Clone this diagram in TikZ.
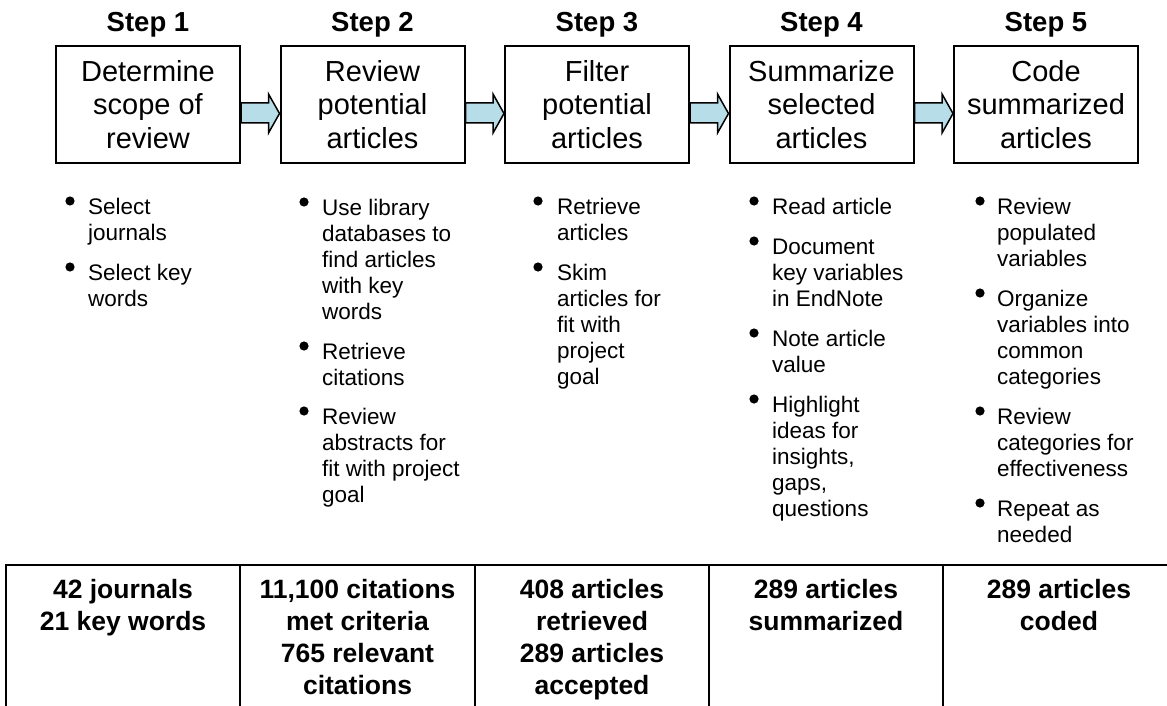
\documentclass[tikz,border=0pt]{standalone}
\usepackage{fontspec}
\setmainfont{Liberation Sans}
\usetikzlibrary{calc}
\definecolor{arrowfill}{RGB}{183,222,232}

% one bullet point: name, bullet x, text x, centre of first line, text
\newcommand\bulletitem[5]{%
  \fill (#2,{#4-6}) circle (4.6pt);
  \node[listitem,name=#1] at (#3,{#4-11.2}) {\strut #5};
}

\begin{document}
\begin{tikzpicture}[x=1pt,y=-1pt,
  stepbox/.style={draw,line width=2pt,minimum width=184pt,minimum height=117pt,
    inner sep=0pt,align=center,font=\fontsize{29}{33.5}\selectfont},
  steptitle/.style={anchor=base,inner sep=0pt,font=\fontsize{27.5}{33}\selectfont\bfseries},
  listitem/.style={anchor=north west,inner sep=0pt,align=left,font=\fontsize{22.5}{26}\selectfont},
  tally/.style={anchor=north,inner sep=0pt,align=center,font=\fontsize{26.5}{32}\selectfont\bfseries},
  blockarrow/.style={draw=black,line width=1.5pt,fill=arrowfill,line join=miter},
  tablerule/.style={line width=2pt}
]
\useasboundingbox (0,0) rectangle (1167,706);

% step titles
\node[steptitle] (t1) at (148,32)    {Step 1};
\node[steptitle] (t2) at (372.5,32)  {Step 2};
\node[steptitle] (t3) at (597,32)    {Step 3};
\node[steptitle] (t4) at (821.5,32)  {Step 4};
\node[steptitle] (t5) at (1046,32)   {Step 5};

% step boxes
\node[stepbox] (b1) at (148,104.5)   {Determine\\scope of\\review};
\node[stepbox] (b2) at (372.5,104.5) {Review\\potential\\articles};
\node[stepbox] (b3) at (597,104.5)   {Filter\\potential\\articles};
\node[stepbox] (b4) at (821.5,104.5) {Summarize\\selected\\articles};
\node[stepbox] (b5) at (1046,104.5)  {Code\\summarized\\articles};

% block arrows between consecutive steps
\foreach \a/\b in {b1/b2,b2/b3,b3/b4,b4/b5}{
  \draw[blockarrow] ($(\a.east)+(0,-1.5)$) -- ($(\b.west)+(-11,-1.5)$)
    -- ($(\b.west)+(-11,-10.5)$) -- ($(\b.west)+(0,9)$)
    -- ($(\b.west)+(-11,28.5)$) -- ($(\b.west)+(-11,18.5)$)
    -- ($(\a.east)+(0,18.5)$) -- cycle;
}

% tasks of each step
\bulletitem{s1a}{70}{88}{207}{Select\\journals}
\bulletitem{s1b}{70}{88}{273}{Select key\\words}

\bulletitem{s2a}{304}{322}{208}{Use library\\databases to\\find articles\\with key\\words}
\bulletitem{s2b}{304}{322}{352}{Retrieve\\citations}
\bulletitem{s2c}{304}{322}{417}{Review\\abstracts for\\fit with project\\goal}

\bulletitem{s3a}{538}{557}{207}{Retrieve\\articles}
\bulletitem{s3b}{538}{557}{273}{Skim\\articles for\\fit with\\project\\goal}

\bulletitem{s4a}{754}{772}{207}{Read article}
\bulletitem{s4b}{754}{772}{247}{Document\\key variables\\in EndNote}
\bulletitem{s4c}{754}{772}{339}{Note article\\value}
\bulletitem{s4d}{754}{772}{405}{Highlight\\ideas for\\insights,\\gaps,\\questions}

\bulletitem{s5a}{980}{997}{207}{Review\\populated\\variables}
\bulletitem{s5b}{980}{997}{299}{Organize\\variables into\\common\\categories}
\bulletitem{s5c}{980}{997}{417}{Review\\categories for\\effectiveness}
\bulletitem{s5d}{980}{997}{509}{Repeat as\\needed}

% results table
\draw[tablerule] (6,712) -- (6,565) -- (1172,565);
\foreach \x in {240,475,709,943}{
  \draw[tablerule] (\x,565) -- (\x,712);
}
\node[tally] (r1) at (123,576)   {\strut 42 journals\\21 key words};
\node[tally] (r2) at (357.5,576) {\strut 11,100 citations\\met criteria\\765 relevant\\citations};
\node[tally] (r3) at (592,576)   {\strut 408 articles\\retrieved\\289 articles\\accepted};
\node[tally] (r4) at (826,576)   {\strut 289 articles\\summarized};
\node[tally] (r5) at (1059,576)  {\strut 289 articles\\coded};
\end{tikzpicture}
\end{document}
